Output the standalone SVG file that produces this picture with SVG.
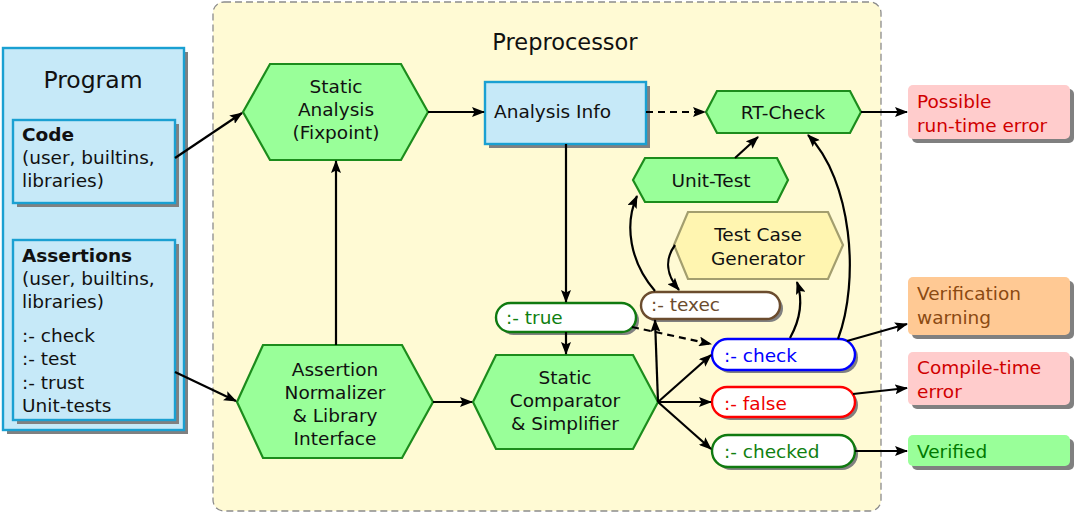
<svg xmlns="http://www.w3.org/2000/svg" width="1079" height="514" viewBox="0 0 1079 514">
<defs>
<marker id="arr" markerUnits="userSpaceOnUse" markerWidth="13" markerHeight="10" refX="12" refY="5" orient="auto">
<path d="M0,0 L13,5 L0,10 L2.5,5 z" fill="#000"/>
</marker>
</defs>
<style>
text{font-family:"DejaVu Sans","Liberation Sans",sans-serif;font-size:18.5px;fill:#111}
.c{text-anchor:middle}
.b{font-weight:bold}
.blue{fill:#c6e9f8;stroke:#1aa0d2;stroke-width:2.4}
.sh{fill:#808080}
.hex{fill:#99ff99;stroke:#1c8c1c;stroke-width:2.2}
.pill{fill:#fff;stroke-width:2.4}
.line{fill:none;stroke:#000;stroke-width:2.2;marker-end:url(#arr)}
.dash{stroke-dasharray:7 5}
</style>
<rect width="1079" height="514" fill="#fff"/>
<g id="preprocessor">
<rect x="213" y="2" width="668" height="509" rx="11" fill="#fffad4" stroke="#8c8c8c" stroke-width="1.3" stroke-dasharray="7 4"/>
<text x="565" y="50" class="c" style="font-size:22.5px">Preprocessor</text>
</g>
<g id="program">
<rect x="7" y="52" width="181" height="382" class="sh"/>
<rect x="3" y="48" width="181" height="382" class="blue"/>
<text x="93" y="88" class="c" style="font-size:23.5px">Program</text>
</g>
<g id="code">
<rect x="17" y="124" width="162" height="83" class="sh"/>
<rect x="13" y="120" width="162" height="83" class="blue"/>
<text x="22" y="141" class="b">Code</text>
<text x="22" y="164">(user, builtins,</text>
<text x="22" y="187">libraries)</text>
</g>
<g id="assertions">
<rect x="17" y="244" width="162" height="180" class="sh"/>
<rect x="13" y="240" width="162" height="180" class="blue"/>
<text x="22" y="262" class="b">Assertions</text>
<text x="22" y="285">(user, builtins,</text>
<text x="22" y="308">libraries)</text>
<text x="22" y="342">:- check</text>
<text x="22" y="365">:- test</text>
<text x="22" y="389">:- trust</text>
<text x="22" y="412">Unit-tests</text>
</g>
<g id="static-analysis">
<polygon points="243,112 270,64 401,64 428,112 401,160 270,160" class="hex"/>
<text x="336" y="93" class="c">Static</text>
<text x="336" y="116" class="c">Analysis</text>
<text x="336" y="139" class="c">(Fixpoint)</text>
</g>
<g id="analysis-info">
<rect x="489" y="86" width="161" height="62" class="sh"/>
<rect x="485" y="82" width="161" height="62" class="blue"/>
<text x="494" y="118">Analysis Info</text>
</g>
<g id="rt-check">
<polygon points="706,112 717,91 850,91 861,112 850,133 717,133" class="hex"/>
<text x="783" y="119" class="c">RT-Check</text>
</g>
<g id="unit-test">
<polygon points="633,180 645,158 777,158 788,180 777,202 645,202" class="hex"/>
<text x="711" y="187" class="c">Unit-Test</text>
</g>
<g id="test-case-generator">
<polygon points="674,245 688,212 828,212 843,245 828,279 688,279" fill="#fff5b0" stroke="#a39e6e" stroke-width="2.2"/>
<text x="758" y="241" class="c">Test Case</text>
<text x="758" y="265" class="c">Generator</text>
</g>
<g id="assertion-normalizer">
<polygon points="237,402 263,345 402,345 433,402 402,458 263,458" class="hex"/>
<text x="335" y="376" class="c">Assertion</text>
<text x="335" y="399" class="c">Normalizer</text>
<text x="335" y="422" class="c">&amp; Library</text>
<text x="335" y="445" class="c">Interface</text>
</g>
<g id="static-comparator">
<polygon points="473,402 496,355 633,355 658,402 633,449 496,449" class="hex"/>
<text x="565" y="384" class="c">Static</text>
<text x="565" y="407" class="c">Comparator</text>
<text x="565" y="430" class="c">&amp; Simplifier</text>
</g>
<g id="true">
<rect x="499" y="306" width="140" height="29" rx="14.5" class="sh"/>
<rect x="496" y="303" width="140" height="29" rx="14.5" class="pill" stroke="#107a10"/>
<text x="506" y="324" style="fill:#108010">:- true</text>
</g>
<g id="texec">
<rect x="644" y="295" width="139" height="27" rx="13.5" class="sh"/>
<rect x="641" y="292" width="139" height="27" rx="13.5" class="pill" stroke="#6b4c2e"/>
<text x="651" y="311" style="fill:#6b4c2e">:- texec</text>
</g>
<g id="check">
<rect x="715" y="342" width="143" height="31" rx="15.5" class="sh"/>
<rect x="712" y="339" width="143" height="31" rx="15.5" class="pill" stroke="#0000ff"/>
<text x="724" y="362" style="fill:#0000ff">:- check</text>
</g>
<g id="false">
<rect x="715" y="390" width="143" height="30" rx="15" class="sh"/>
<rect x="712" y="387" width="143" height="30" rx="15" class="pill" stroke="#ff0000"/>
<text x="724" y="410" style="fill:#ee0000">:- false</text>
</g>
<g id="checked">
<rect x="715" y="438" width="143" height="32" rx="16" class="sh"/>
<rect x="712" y="435" width="143" height="32" rx="16" class="pill" stroke="#107a10"/>
<text x="724" y="458" style="fill:#108010">:- checked</text>
</g>
<g id="possible-error">
<rect x="912" y="89" width="162" height="54" rx="5" class="sh"/>
<rect x="908" y="85" width="162" height="54" rx="5" fill="#ffcccc"/>
<text x="917" y="108" style="fill:#d00000">Possible</text>
<text x="917" y="132" style="fill:#d00000">run-time error</text>
</g>
<g id="verification-warning">
<rect x="912" y="281" width="162" height="58" rx="5" class="sh"/>
<rect x="908" y="277" width="162" height="58" rx="5" fill="#ffc994"/>
<text x="917" y="300" style="fill:#8b4a12">Verification</text>
<text x="917" y="324" style="fill:#8b4a12">warning</text>
</g>
<g id="compile-error">
<rect x="912" y="356" width="162" height="53" rx="5" class="sh"/>
<rect x="908" y="352" width="162" height="53" rx="5" fill="#ffcccc"/>
<text x="917" y="374" style="fill:#d00000">Compile-time</text>
<text x="917" y="398" style="fill:#d00000">error</text>
</g>
<g id="verified">
<rect x="912" y="439" width="162" height="31" rx="5" class="sh"/>
<rect x="908" y="435" width="162" height="31" rx="5" fill="#99ff99"/>
<text x="917" y="458" style="fill:#007a00">Verified</text>
</g>
<g id="connectors">
<path d="M175,158 L242,113" class="line"/>
<path d="M175,372 L236,401" class="line"/>
<path d="M336,345 L336,161" class="line"/>
<path d="M428,112 L484,112" class="line"/>
<path d="M646,112 L705,112" class="line dash"/>
<path d="M861,112 L907,112" class="line"/>
<path d="M566,144 L566,302" class="line"/>
<path d="M566,332 L566,354" class="line"/>
<path d="M433,402 L472,402" class="line"/>
<path d="M658,402 L711,355" class="line"/>
<path d="M658,402 L711,402" class="line"/>
<path d="M658,402 L711,449" class="line"/>
<path d="M658,402 L655,320" class="line"/>
<path d="M632,327 L711,344" class="line dash"/>
<path d="M847,341 L907,324" class="line"/>
<path d="M853,394 L907,388" class="line"/>
<path d="M855,451 L907,451" class="line"/>
<path d="M838,339 C860,280 852,180 808,135" class="line"/>
<path d="M790,338 C800,320 803,300 797,282" class="line"/>
<path d="M655,291 C630,262 624,225 637,196" class="line"/>
<path d="M675,245 C664,260 667,276 679,290" class="line"/>
<path d="M735,158 L758,137" class="line"/>
</g>
</svg>
